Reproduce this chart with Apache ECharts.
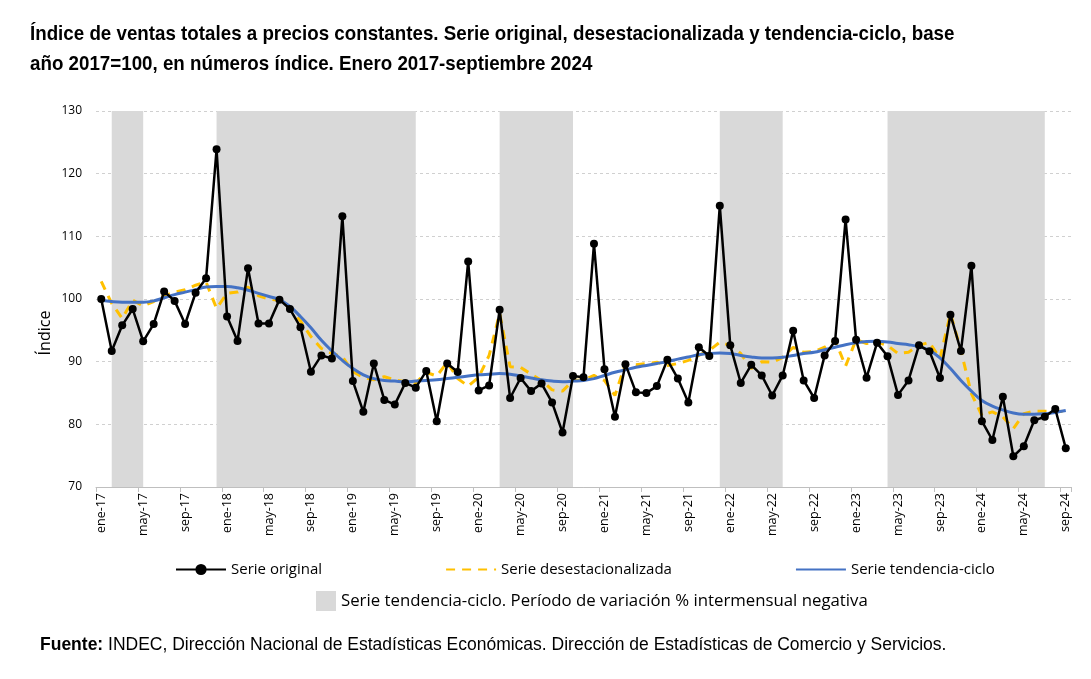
<!DOCTYPE html>
<html>
<head>
<meta charset="utf-8">
<script src="https://cdn.jsdelivr.net/npm/echarts@6/dist/echarts.min.js"></script>
<style>
html,body{margin:0;padding:0;background:#fff;}
#chart{width:1091px;height:679px;}
</style>
</head>
<body>
<div id="chart"></div>
<script>
const categories = [
'ene-17','feb-17','mar-17','abr-17','may-17','jun-17','jul-17','ago-17','sep-17','oct-17','nov-17','dic-17',
'ene-18','feb-18','mar-18','abr-18','may-18','jun-18','jul-18','ago-18','sep-18','oct-18','nov-18','dic-18',
'ene-19','feb-19','mar-19','abr-19','may-19','jun-19','jul-19','ago-19','sep-19','oct-19','nov-19','dic-19',
'ene-20','feb-20','mar-20','abr-20','may-20','jun-20','jul-20','ago-20','sep-20','oct-20','nov-20','dic-20',
'ene-21','feb-21','mar-21','abr-21','may-21','jun-21','jul-21','ago-21','sep-21','oct-21','nov-21','dic-21',
'ene-22','feb-22','mar-22','abr-22','may-22','jun-22','jul-22','ago-22','sep-22','oct-22','nov-22','dic-22',
'ene-23','feb-23','mar-23','abr-23','may-23','jun-23','jul-23','ago-23','sep-23','oct-23','nov-23','dic-23',
'ene-24','feb-24','mar-24','abr-24','may-24','jun-24','jul-24','ago-24','sep-24'
];

const serieOriginal = [
100.0, 91.7, 95.8, 98.4, 93.25, 96.0, 101.2, 99.7, 96.0, 101.0, 103.3, 123.9,
97.2, 93.3, 104.9, 96.1, 96.1, 99.9, 98.4, 95.5, 88.4, 91.0, 90.5, 113.2,
86.9, 82.0, 89.7, 83.9, 83.15, 86.6, 85.85, 88.5, 80.5, 89.7, 88.35, 106.0,
85.4, 86.2, 98.3, 84.2, 87.4, 85.3, 86.5, 83.5, 78.7, 87.7, 87.5, 108.8,
88.8, 81.2, 89.6, 85.1, 85.0, 86.1, 90.3, 87.3, 83.5, 92.3, 90.9, 114.9,
92.6, 86.6, 89.5, 87.8, 84.6, 87.8, 94.95, 87.0, 84.2, 91.0, 93.3, 112.7,
93.5, 87.45, 93.0, 90.85, 84.7, 87.0, 92.6, 91.65, 87.4, 97.5, 91.7, 105.3,
80.5, 77.5, 84.4, 74.9, 76.5, 80.65, 81.2, 82.45, 76.2
];

const serieDesest = [
102.8, 99.3, 96.9, 99.8, 98.9, 99.6, 100.5, 101.1, 101.5, 102.2, 102.7, 98.5,
100.9, 101.1, 101.9, 100.5, 100.0, 99.8, 98.5, 96.5, 94.0, 92.1, 91.3, 90.8,
88.4, 87.5, 87.1, 87.6, 87.1, 86.8, 86.6, 88.3, 87.7, 89.9, 87.3, 86.1,
87.5, 91.0, 97.7, 89.2, 89.1, 88.0, 87.0, 85.5, 85.3, 87.0, 87.1, 87.8,
87.0, 84.6, 89.7, 89.5, 89.7, 89.9, 89.4, 89.7, 90.2, 91.0, 91.8, 93.1,
92.6, 91.3, 88.9, 90.0, 89.9, 90.7, 92.3, 91.5, 91.6, 92.3, 93.4, 89.3,
93.5, 92.9, 93.1, 92.6, 91.3, 91.5, 92.6, 93.1, 90.5, 97.7, 91.8, 84.9,
81.4, 82.0, 81.2, 79.3, 81.7, 82.1, 82.1, 82.1, 82.0
];

const serieTendencia = [
99.8, 99.6, 99.5, 99.5, 99.5, 99.7, 100.2, 100.7, 101.1, 101.5, 101.9, 102.0,
102.0, 101.8, 101.4, 100.9, 100.4, 99.9, 98.8, 97.2, 95.4, 93.4, 91.7, 90.2,
88.9, 87.9, 87.3, 87.0, 86.9, 86.8, 86.9, 87.0, 87.1, 87.3, 87.5, 87.7,
87.9, 88.0, 88.1, 88.0, 87.7, 87.4, 87.1, 86.9, 86.8, 86.9, 87.0, 87.3,
87.8, 88.3, 88.7, 89.1, 89.4, 89.7, 90.0, 90.4, 90.75, 91.1, 91.3, 91.4,
91.3, 91.0, 90.75, 90.6, 90.6, 90.7, 91.0, 91.3, 91.5, 91.9, 92.3, 92.7,
93.0, 93.2, 93.25, 93.15, 92.9, 92.7, 92.4, 91.8, 90.6, 88.9, 87.0, 85.3,
83.8, 82.9, 82.3, 81.8, 81.6, 81.6, 81.7, 81.9, 82.2
];

// Periods with negative month-on-month variation of the trend-cycle (start, end)
const negativePeriods = [
['feb-17','may-17'],
['dic-17','jul-19'],
['mar-20','oct-20'],
['dic-21','jun-22'],
['abr-23','jul-24']
];

const yTicks = {min: 70, max: 130, interval: 10};

const names = {
  orig: 'Serie original',
  desest: 'Serie desestacionalizada',
  tend: 'Serie tendencia-ciclo',
  neg: 'Serie tendencia-ciclo. Período de variación % intermensual negativa'
};

const titleText = 'Índice de ventas totales a precios constantes. Serie original, desestacionalizada y tendencia-ciclo, base\naño 2017=100, en números índice. Enero 2017-septiembre 2024';
const sourceText = '{b|Fuente:} INDEC, Dirección Nacional de Estadísticas Económicas. Dirección de Estadísticas de Comercio y Servicios.';

const chart = echarts.init(document.getElementById('chart'), null, {renderer: 'canvas'});

const option = {
  animation: false,
  backgroundColor: '#ffffff',
  title: [
    {
      text: sourceText,
      left: 35, top: 631,
      textStyle: {
        fontFamily: '"Liberation Sans", Arial, sans-serif',
        fontSize: 17.5, color: '#000', fontWeight: 'normal',
        rich: {
          b: {fontFamily: '"Liberation Sans", Arial, sans-serif', fontSize: 17.5, fontWeight: 'bold', color: '#000'}
        }
      }
    }
  ],
  graphic: [
    {
      type: 'text', x: 30, y: 19, scaleX: 0.893, scaleY: 1,
      style: {
        text: titleText, fontSize: 21, lineHeight: 30, fontWeight: 'bold',
        fontFamily: '"Liberation Sans", Arial, sans-serif',
        fill: '#000', align: 'left', verticalAlign: 'top'
      }
    },
    {
      type: 'text', x: 45, y: 333, rotation: Math.PI / 2,
      style: {
        text: 'Índice', fontSize: 16, fontFamily: '"Open Sans", sans-serif',
        fill: '#000', align: 'center', verticalAlign: 'middle'
      }
    }
  ],
  legend: [
    {
      data: [
        {name: names.orig},
        {name: names.desest, itemStyle: {opacity: 0}},
        {name: names.tend, itemStyle: {opacity: 0}}
      ],
      left: 170, top: 557,
      itemWidth: 50, itemHeight: 14, itemGap: 123,
      textStyle: {fontFamily: '"Open Sans", sans-serif', fontSize: 15, color: '#000'},
      selectedMode: false
    },
    {
      data: [{name: names.neg, icon: 'rect'}],
      left: 311, top: 586,
      itemWidth: 20, itemHeight: 20,
      textStyle: {fontFamily: '"Open Sans", sans-serif', fontSize: 16.8, color: '#000'},
      selectedMode: false
    }
  ],
  grid: {left: 96, right: 20, top: 111, bottom: 192, containLabel: false},
  xAxis: {
    type: 'category',
    data: categories,
    boundaryGap: true,
    axisLine: {show: true, lineStyle: {color: '#bfbfbf', width: 1}},
    axisTick: {show: true, interval: 3, length: 5, lineStyle: {color: '#bfbfbf'}},
    axisLabel: {
      interval: 3, rotate: 90, fontSize: 12.5,
      fontFamily: '"Open Sans", sans-serif', color: '#000', margin: 6
    },
    splitLine: {show: false}
  },
  yAxis: {
    type: 'value',
    min: yTicks.min, max: yTicks.max, interval: yTicks.interval,
    axisLine: {show: false},
    axisTick: {show: false},
    axisLabel: {fontSize: 12, fontFamily: '"Open Sans", sans-serif', color: '#000', margin: 14},
    splitLine: {show: true, lineStyle: {color: '#d0d0d0', type: [3, 3], width: 1}}
  },
  series: [
    {
      name: names.neg,
      type: 'line',
      data: categories.map(() => '-'),
      itemStyle: {color: '#d9d9d9'},
      lineStyle: {width: 0},
      symbol: 'none',
      silent: true,
      z: 1,
      markArea: {
        silent: true,
        itemStyle: {color: '#d9d9d9'},
        data: negativePeriods.map(p => [{xAxis: p[0]}, {xAxis: p[1]}])
      }
    },
    {
      name: names.desest,
      type: 'line',
      data: serieDesest,
      symbol: 'none',
      itemStyle: {color: '#FFC000'},
      lineStyle: {color: '#FFC000', width: 3, type: [9, 7]},
      z: 3
    },
    {
      name: names.tend,
      type: 'line',
      data: serieTendencia,
      smooth: 0.4,
      symbol: 'none',
      itemStyle: {color: '#4472C4'},
      lineStyle: {color: '#4472C4', width: 3},
      z: 4
    },
    {
      name: names.orig,
      type: 'line',
      data: serieOriginal,
      symbol: 'circle',
      symbolSize: 8,
      showSymbol: true,
      showAllSymbol: true,
      itemStyle: {color: '#000'},
      lineStyle: {color: '#000', width: 2.5},
      z: 5
    }
  ]
};

chart.setOption(option);
</script>
</body>
</html>
